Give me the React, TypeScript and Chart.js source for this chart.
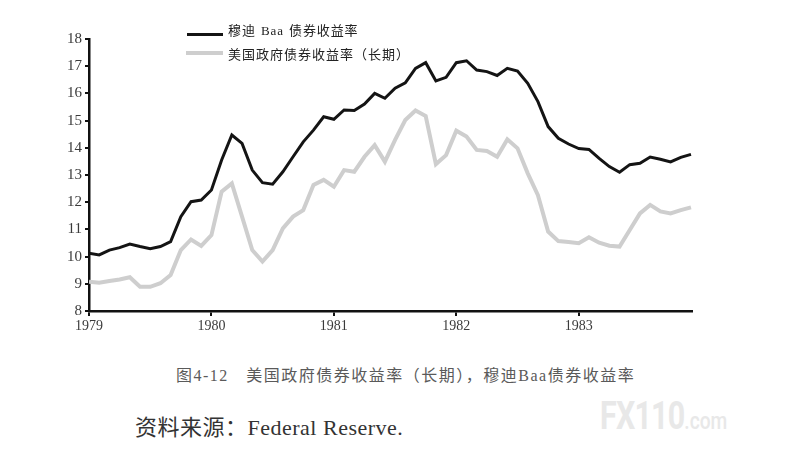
import { useEffect, useRef } from "react";
import { Chart, registerables } from "chart.js";

Chart.register(...registerables);

const yearLabels = ["1979", "1980", "1981", "1982", "1983"];
const monthNames = ["01", "02", "03", "04", "05", "06", "07", "08", "09", "10", "11", "12"];
const months = yearLabels.flatMap((y) => monthNames.map((m) => `${y}-${m}`));

const baaYield = [
  10.12, 10.06, 10.24, 10.33, 10.46, 10.37, 10.29, 10.37, 10.55, 11.47, 12.02, 12.08,
  12.45, 13.55, 14.47, 14.16, 13.18, 12.72, 12.66, 13.12, 13.67, 14.22, 14.65, 15.14,
  15.05, 15.39, 15.37, 15.61, 16.0, 15.82, 16.19, 16.39, 16.92, 17.13, 16.46, 16.59,
  17.13, 17.2, 16.86, 16.8, 16.66, 16.92, 16.82, 16.37, 15.7, 14.78, 14.35, 14.14,
  13.97, 13.94, 13.61, 13.31, 13.1, 13.38, 13.43, 13.66, 13.58, 13.48, 13.65, 13.76,
];

const treasuryYield = [
  9.08, 9.04, 9.1, 9.16, 9.24, 8.89, 8.89, 9.02, 9.32, 10.24, 10.63, 10.39,
  10.79, 12.39, 12.69, 11.47, 10.24, 9.82, 10.24, 11.04, 11.47, 11.71, 12.63, 12.82,
  12.57, 13.18, 13.12, 13.67, 14.1, 13.49, 14.29, 15.02, 15.37, 15.17, 13.4, 13.73,
  14.63, 14.41, 13.92, 13.88, 13.67, 14.31, 13.98, 13.06, 12.26, 10.92, 10.57, 10.54,
  10.49, 10.71, 10.51, 10.4, 10.37, 10.98, 11.59, 11.9, 11.66, 11.59, 11.71, 11.81,
];

const seriesNames = ["穆迪 Baa 债券收益率", "美国政府债券收益率（长期）"];
const caption = "图4-12　美国政府债券收益率（长期），穆迪Baa债券收益率";
const source = "资料来源：Federal Reserve.";

const SERIF = '"Liberation Serif", "DejaVu Serif", "Noto Sans CJK SC", serif';

export default function App() {
  const canvasRef = useRef<HTMLCanvasElement | null>(null);

  useEffect(() => {
    const canvas = canvasRef.current;
    if (!canvas) return;
    const chart = new Chart(canvas, {
      type: "line",
      data: {
        labels: months,
        datasets: [
          {
            label: seriesNames[1],
            data: treasuryYield.map((v, i) => ({ x: i, y: v })),
            borderColor: "#cecece",
            borderWidth: 4,
            pointRadius: 0,
            tension: 0,
            fill: false,
          },
          {
            label: seriesNames[0],
            data: baaYield.map((v, i) => ({ x: i, y: v })),
            borderColor: "#141414",
            borderWidth: 3,
            pointRadius: 0,
            tension: 0,
            fill: false,
          },
        ],
      },
      options: {
        animation: false,
        responsive: false,
        maintainAspectRatio: false,
        layout: { padding: { left: 0, top: 39, right: 95, bottom: 0 } },
        plugins: {
          legend: { display: false },
          tooltip: { enabled: false },
          title: { display: false },
        },
        scales: {
          x: {
            type: "linear",
            min: 0,
            max: 59.1,
            afterBuildTicks: (scale: any) => {
              scale.ticks = yearLabels.map((_, i) => ({ value: i * 12 }));
            },
            afterFit: (scale: any) => {
              scale.height = 34;
            },
            ticks: {
              autoSkip: false,
              maxRotation: 0,
              padding: 2,
              color: "#3a3a3a",
              font: { family: SERIF, size: 14 },
              callback: (v: any) => yearLabels[Math.round(Number(v) / 12)] ?? "",
            },
            grid: {
              display: true,
              drawOnChartArea: false,
              drawTicks: true,
              tickLength: 5,
              color: "#111",
              lineWidth: 2,
            },
            border: { display: true, color: "#111", width: 2.5 },
          },
          y: {
            type: "linear",
            min: 8,
            max: 18,
            afterFit: (scale: any) => {
              scale.width = 89;
            },
            ticks: {
              stepSize: 1,
              padding: 3,
              color: "#3a3a3a",
              font: { family: SERIF, size: 15 },
            },
            grid: {
              display: true,
              drawOnChartArea: false,
              drawTicks: true,
              tickLength: 4,
              color: "#111",
              lineWidth: 2,
            },
            border: { display: true, color: "#111", width: 2.5 },
          },
        },
      },
    });
    return () => chart.destroy();
  }, []);

  const abs = (s: any) => ({ position: "absolute" as const, ...s });

  return (
    <div
      style={{
        position: "absolute",
        left: 0,
        top: 0,
        width: 787,
        height: 472,
        background: "#fff",
        overflow: "hidden",
        fontFamily: SERIF,
      }}
    >
      <canvas ref={canvasRef} width={787} height={345} style={abs({ left: 0, top: 0, width: 787, height: 345 })} />

      <div style={abs({ left: 187, top: 33, width: 36, height: 3, background: "#141414" })} />
      <div
        style={abs({
          left: 228,
          top: 23,
          fontSize: 13,
          lineHeight: "16px",
          color: "#222",
          whiteSpace: "nowrap",
          wordSpacing: 1,
          letterSpacing: 0.9,
        })}
      >
        {seriesNames[0]}
      </div>
      <div style={abs({ left: 186, top: 51, width: 37, height: 4, background: "#cecece" })} />
      <div
        style={abs({
          left: 228,
          top: 47,
          fontSize: 13,
          lineHeight: "16px",
          color: "#222",
          whiteSpace: "nowrap",
          letterSpacing: 1,
        })}
      >
        {seriesNames[1]}
      </div>

      <div
        style={abs({
          left: 176,
          top: 365,
          fontSize: 16,
          lineHeight: "22px",
          color: "#5a5a5a",
          whiteSpace: "nowrap",
          letterSpacing: 1.5,
        })}
      >
        {caption}
      </div>

      <div
        style={abs({
          left: 600,
          top: 396,
          fontFamily: 'Roboto, "Noto Sans", sans-serif',
          fontWeight: 700,
          color: "#e8e8e8",
          whiteSpace: "nowrap",
          lineHeight: "40px",
          transform: "scaleX(0.8)",
          transformOrigin: "left center",
        })}
      >
        <span style={{ fontSize: 38, letterSpacing: -1 }}>FX110</span>
        <span style={{ fontSize: 24, fontWeight: 500 }}>.com</span>
      </div>

      <div
        style={abs({
          left: 135,
          top: 414,
          fontSize: 22,
          lineHeight: "28px",
          color: "#333",
          whiteSpace: "nowrap",
          letterSpacing: 0.5,
        })}
      >
        {source}
      </div>
    </div>
  );
}
